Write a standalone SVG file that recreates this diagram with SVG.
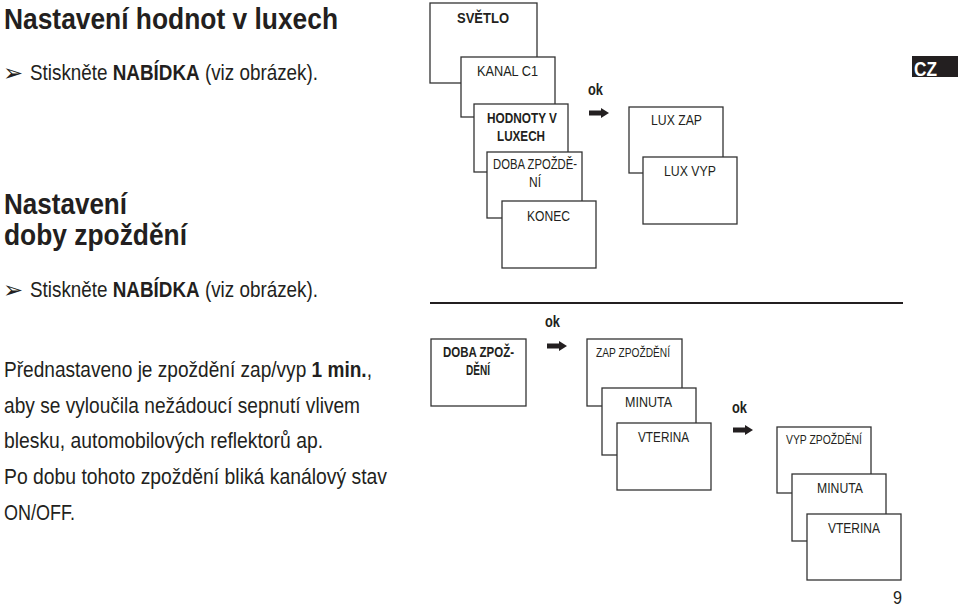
<svg xmlns="http://www.w3.org/2000/svg" width="960" height="608" viewBox="0 0 960 608">
<defs>
<style>
text{font-family:"Liberation Sans",Arial,sans-serif;fill:#231f20}
.h{font-size:30px;font-weight:bold}
.p{font-size:22.5px}
.bx{fill:#fff;stroke:#333;stroke-width:1.3}
.bl{font-size:15px;font-weight:bold}
.nl{font-size:15.5px}
.sl{font-size:13px}
.ok{font-size:17px;font-weight:bold}
.bul{font-family:"DejaVu Sans",sans-serif;font-size:24px}
.arr{fill:#231f20}
</style>
<path id="arrow" d="M0,-2.5 H12 V-5 L20,0 L12,5 V2.5 H0 Z"/>
</defs>
<rect width="960" height="608" fill="#fff"/>

<g id="text-left">
<text class="h" x="4" y="29" textLength="334" lengthAdjust="spacingAndGlyphs">Nastavení hodnot v luxech</text>
<text class="bul" x="3" y="81">➢</text>
<text class="p" x="30" y="80" textLength="288" lengthAdjust="spacingAndGlyphs">Stiskněte <tspan font-weight="bold">NABÍDKA</tspan> (viz obrázek).</text>
<text class="h" x="4" y="214" textLength="123" lengthAdjust="spacingAndGlyphs">Nastavení</text>
<text class="h" x="4" y="245" textLength="183" lengthAdjust="spacingAndGlyphs">doby zpoždění</text>
<text class="bul" x="3" y="298">➢</text>
<text class="p" x="30" y="297" textLength="288" lengthAdjust="spacingAndGlyphs">Stiskněte <tspan font-weight="bold">NABÍDKA</tspan> (viz obrázek).</text>
<text class="p" x="4" y="377" textLength="368" lengthAdjust="spacingAndGlyphs">Přednastaveno je zpoždění zap/vyp <tspan font-weight="bold">1 min.</tspan>,</text>
<text class="p" x="4" y="413" textLength="356" lengthAdjust="spacingAndGlyphs">aby se vyloučila nežádoucí sepnutí vlivem</text>
<text class="p" x="4" y="448" textLength="319" lengthAdjust="spacingAndGlyphs">blesku, automobilových reflektorů ap.</text>
<text class="p" x="4" y="484" textLength="383" lengthAdjust="spacingAndGlyphs">Po dobu tohoto zpoždění bliká kanálový stav</text>
<text class="p" x="4" y="520" textLength="71" lengthAdjust="spacingAndGlyphs">ON/OFF.</text>
</g>

<g id="cz-badge">
<rect x="912" y="56" width="46" height="21" fill="#231f20"/>
<text x="914" y="75.5" font-size="20" font-weight="bold" style="fill:#fff" textLength="23" lengthAdjust="spacingAndGlyphs">CZ</text>
</g>

<line id="separator" x1="430" y1="303" x2="903" y2="303" stroke="#231f20" stroke-width="2"/>

<g id="node-svetlo"><rect class="bx" x="430" y="3" width="107" height="80"/><text class="bl" x="457" y="23" textLength="52" lengthAdjust="spacingAndGlyphs">SVĚTLO</text></g>
<g id="node-kanal"><rect class="bx" x="461" y="57" width="94" height="60"/><text class="nl" x="477" y="76" textLength="61" lengthAdjust="spacingAndGlyphs">KANAL C1</text></g>
<g id="node-hodnoty"><rect class="bx" x="474" y="104" width="94" height="68"/><text class="bl" x="487" y="123" textLength="70" lengthAdjust="spacingAndGlyphs">HODNOTY V</text><text class="bl" x="497" y="141" textLength="48" lengthAdjust="spacingAndGlyphs">LUXECH</text></g>
<g id="node-doba1"><rect class="bx" x="487" y="152" width="95" height="66"/><text class="nl" x="493" y="169" textLength="84" lengthAdjust="spacingAndGlyphs">DOBA ZPOŽDĚ-</text><text class="nl" x="529" y="187" textLength="12" lengthAdjust="spacingAndGlyphs">NÍ</text></g>
<g id="node-konec"><rect class="bx" x="502" y="201" width="94" height="67"/><text class="nl" x="527" y="221" textLength="43" lengthAdjust="spacingAndGlyphs">KONEC</text></g>
<g id="node-luxzap"><rect class="bx" x="629" y="107" width="94" height="66"/><text class="nl" x="651" y="125" textLength="51" lengthAdjust="spacingAndGlyphs">LUX ZAP</text></g>
<g id="node-luxvyp"><rect class="bx" x="643" y="157" width="94" height="67"/><text class="nl" x="664" y="176" textLength="52" lengthAdjust="spacingAndGlyphs">LUX VYP</text></g>

<g id="node-doba2"><rect class="bx" x="431" y="339" width="95" height="67"/><text class="bl" x="443" y="357" textLength="71" lengthAdjust="spacingAndGlyphs">DOBA ZPOŽ-</text><text class="bl" x="466" y="375" textLength="24" lengthAdjust="spacingAndGlyphs">DĚNÍ</text></g>
<g id="node-zapzpozdeni"><rect class="bx" x="587" y="339" width="95" height="67"/><text class="sl" x="596" y="357" textLength="74" lengthAdjust="spacingAndGlyphs">ZAP ZPOŽDĚNÍ</text></g>
<g id="node-minuta1"><rect class="bx" x="602" y="388" width="94" height="67"/><text class="nl" x="625" y="407" textLength="47" lengthAdjust="spacingAndGlyphs">MINUTA</text></g>
<g id="node-vterina1"><rect class="bx" x="617" y="423" width="94" height="67"/><text class="nl" x="638" y="442" textLength="51" lengthAdjust="spacingAndGlyphs">VTERINA</text></g>
<g id="node-vypzpozdeni"><rect class="bx" x="777" y="427" width="94" height="66"/><text class="sl" x="786" y="444" textLength="76" lengthAdjust="spacingAndGlyphs">VYP ZPOŽDĚNÍ</text></g>
<g id="node-minuta2"><rect class="bx" x="792" y="474" width="94" height="67"/><text class="nl" x="817" y="493" textLength="46" lengthAdjust="spacingAndGlyphs">MINUTA</text></g>
<g id="node-vterina2"><rect class="bx" x="807" y="514" width="94" height="66"/><text class="nl" x="828" y="533" textLength="52" lengthAdjust="spacingAndGlyphs">VTERINA</text></g>

<g id="connectors">
<text class="ok" x="588" y="95" textLength="15" lengthAdjust="spacingAndGlyphs">ok</text>
<use href="#arrow" class="arr" x="589" y="113"/>
<text class="ok" x="545" y="327" textLength="15" lengthAdjust="spacingAndGlyphs">ok</text>
<use href="#arrow" class="arr" x="547" y="346"/>
<text class="ok" x="732" y="413" textLength="15" lengthAdjust="spacingAndGlyphs">ok</text>
<use href="#arrow" class="arr" x="733" y="430"/>
</g>

<text x="893" y="604" font-size="18" textLength="9" lengthAdjust="spacingAndGlyphs">9</text>
</svg>
